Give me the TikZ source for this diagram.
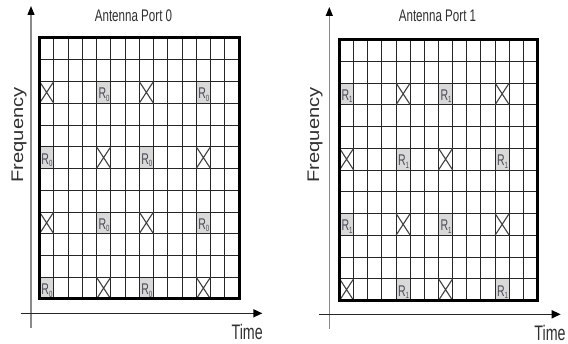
\documentclass[tikz,border=0pt]{standalone}
\usepackage{fontspec}
\usepackage{graphicx}
\setmainfont{Liberation Sans}
\usetikzlibrary{arrows.meta}
\definecolor{txt}{HTML}{303030}
\definecolor{rsfillc}{HTML}{D9D9D9}
\definecolor{rstxt}{HTML}{4A4A55}
\definecolor{axisgray}{HTML}{8A8A8A}
\tikzset{
  gridline/.style={line width=0.9pt, draw=black!85},
  gridborder/.style={line width=3pt, draw=black},
  rsfill/.style={fill=rsfillc},
  xline/.style={line width=1.1pt, draw=black!75},
  rslabel/.style={inner sep=0pt, anchor=base west, text=rstxt},
  vaxis/.style={line width=1.3pt, draw=axisgray, -{Triangle[length=9pt,width=7pt,color=black]}},
  haxis/.style={line width=1.5pt, draw=black!85, -{Triangle[length=9pt,width=8pt,color=black]}},
  titletxt/.style={inner sep=0pt, anchor=base, text=txt},
}
\newcommand\xcell[2]{%
  \draw[xline] (#1,#2) -- ++(1,1) (#1+1,#2) -- ++(-1,1);}
\newcommand\gridlines{%
  \foreach \c in {1,...,13} {\draw[gridline] (\c,0) -- (\c,12);}
  \foreach \r in {1,...,11} {\draw[gridline] (0,\r) -- (14,\r);}}
\newcommand\rslab[1]{\scalebox{0.68}[1]{\fontsize{15.5}{16}\selectfont R\raisebox{-2.5pt}{\fontsize{9}{9}\selectfont #1}}}
\begin{document}
\begin{tikzpicture}[x=1pt,y=-1pt]
\useasboundingbox (0,0) rectangle (568,344);
% ---------- Antenna port 0 ----------
\begin{scope}[shift={(39.5,38)}, x=14.25pt, y=-21.75pt]
  \foreach \c/\r in {4/2,11/2,0/5,7/5,4/8,11/8,0/11,7/11} {\fill[rsfill] (\c,\r) rectangle ++(1,1);}
  \gridlines
  \foreach \c/\r in {0/2,7/2,4/5,11/5,0/8,7/8,4/11,11/11} {\xcell{\c}{\r}}
  \foreach \c/\r in {4/2,11/2,0/5,7/5,4/8,11/8,0/11,7/11} {%
    \node[rslabel, xshift=1.8pt, yshift=-17.3pt] at (\c,\r) {\rslab{0}};}
  \draw[gridborder] (0,0) rectangle (14,12);
\end{scope}
\coordinate (lyb) at (31,328);
\coordinate (lyt) at (31,6);
\coordinate (lxl) at (20.7,313.3);
\coordinate (lxr) at (262.3,313.3);
\draw[vaxis] (lyb) -- (lyt);
\draw[haxis] (lxl) -- (lxr);
\node[titletxt] (title0) at (133.5,22) {\scalebox{0.69}[1]{\fontsize{16.8}{18}\selectfont Antenna Port 0}};
\node[rotate=90, inner sep=0pt, text=txt] (freq0) at (19,135) {\scalebox{1.2}[1]{\fontsize{16.8}{18}\selectfont Frequency}};
\node[titletxt] (time0) at (247.2,340) {\scalebox{0.68}[1]{\fontsize{21}{22}\selectfont Time}};
% ---------- Antenna port 1 ----------
\begin{scope}[shift={(339.5,39.5)}, x=14.143pt, y=-21.75pt]
  \foreach \c/\r in {0/2,7/2,4/5,11/5,0/8,7/8,4/11,11/11} {\fill[rsfill] (\c,\r) rectangle ++(1,1);}
  \gridlines
  \foreach \c/\r in {4/2,11/2,0/5,7/5,4/8,11/8,0/11,7/11} {\xcell{\c}{\r}}
  \foreach \c/\r in {0/2,7/2,4/5,11/5,0/8,7/8,4/11,11/11} {%
    \node[rslabel, xshift=1.8pt, yshift=-17.3pt] at (\c,\r) {\rslab{1}};}
  \draw[gridborder] (0,0) rectangle (14,12);
\end{scope}
\coordinate (ryb) at (329.3,329);
\coordinate (ryt) at (329.3,7);
\coordinate (rxl) at (319.3,314.3);
\coordinate (rxr) at (560.7,314.3);
\draw[vaxis] (ryb) -- (ryt);
\draw[haxis] (rxl) -- (rxr);
\node[titletxt] (title1) at (437.5,22) {\scalebox{0.69}[1]{\fontsize{16.8}{18}\selectfont Antenna Port 1}};
\node[rotate=90, inner sep=0pt, text=txt] (freq1) at (315,135) {\scalebox{1.2}[1]{\fontsize{16.8}{18}\selectfont Frequency}};
\node[titletxt] (time1) at (550,341) {\scalebox{0.68}[1]{\fontsize{21}{22}\selectfont Time}};
\end{tikzpicture}
\end{document}
